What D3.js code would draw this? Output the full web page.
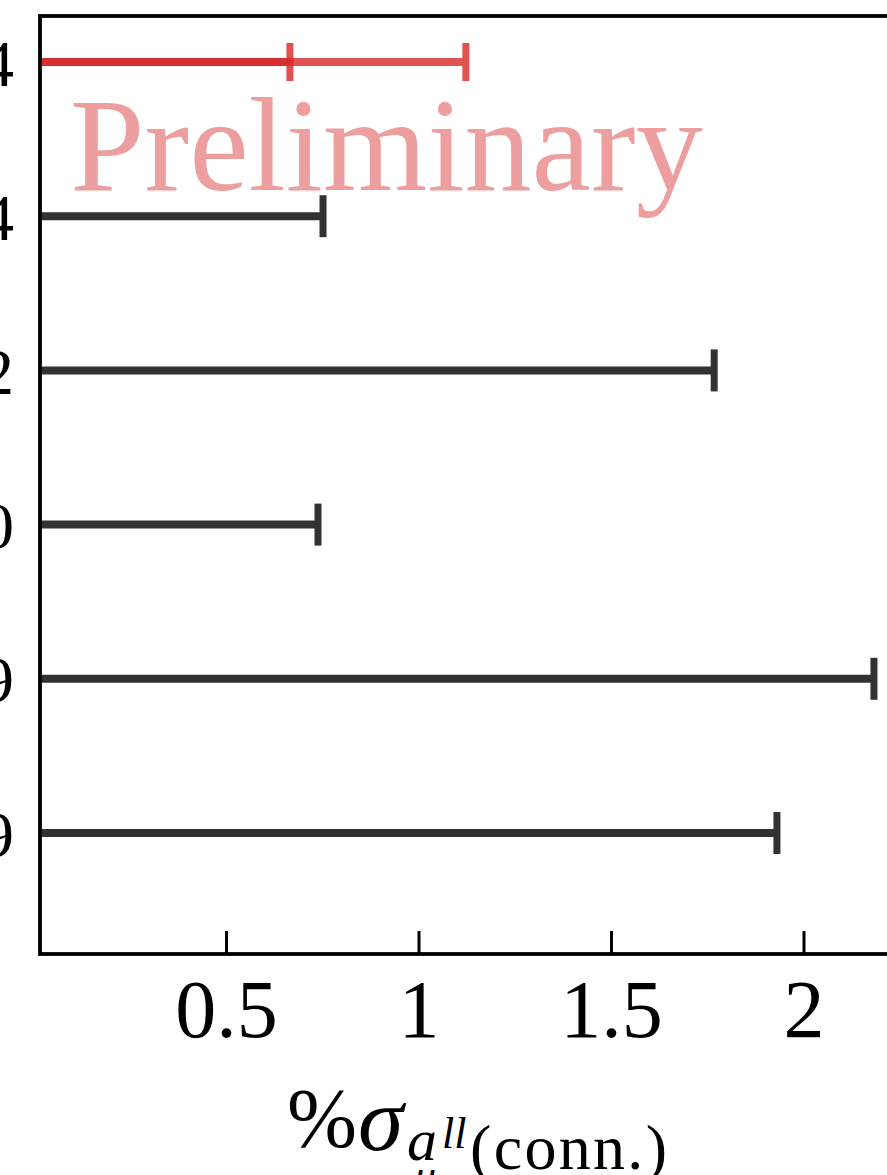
<!DOCTYPE html>
<html>
<head>
<meta charset="utf-8">
<script src="https://cdn.jsdelivr.net/npm/d3@7"></script>
<style>
  html, body { margin: 0; padding: 0; background: #fff; overflow: hidden; }
  svg { display: block; }
  text { font-family: "Liberation Serif", "Times New Roman", serif; }
</style>
</head>
<body>
<svg id="chart" width="887" height="1175"></svg>
<script>
// Row labels (top to bottom) and the relative uncertainty of each entry
const rows = ["4", "4", "2", "0", "9", "9"];
const errTotal = [1.123, 0.752, 1.768, 0.739, 2.183, 1.931];
// Inner (partial) uncertainty shown only for the highlighted first entry
const errInner = [0.666, null, null, null, null, null];
const highlight = [true, false, false, false, false, false];
const xTicks = [0.5, 1, 1.5, 2];
const xTickLabels = ["0.5", "1", "1.5", "2"];

const svg = d3.select("#chart");
const frame = { left: 40, top: 16, right: 905, bottom: 954 };

const x = d3.scaleLinear().domain([0, 2]).range([33.5, 803.5]);
const y = d3.scalePoint().domain(d3.range(rows.length)).range([62, 833]);

const red = "#d62728";
const dark = "#000";

svg.append("defs").append("clipPath").attr("id", "plot-clip")
  .append("rect")
  .attr("x", frame.left).attr("y", frame.top)
  .attr("width", frame.right - frame.left).attr("height", frame.bottom - frame.top);

const plot = svg.append("g").attr("clip-path", "url(#plot-clip)");

// Watermark
plot.append("text")
  .attr("x", 70).attr("y", 190)
  .attr("font-size", 134)
  .attr("fill", red).attr("fill-opacity", 0.45)
  .text("Preliminary");

// Horizontal error bars drawn from zero to the uncertainty, with an end cap
function errorBar(g, i, v, color, capHalf) {
  g.append("line")
    .attr("x1", x(0)).attr("x2", x(v))
    .attr("y1", y(i)).attr("y2", y(i))
    .attr("stroke", color).attr("stroke-width", 8);
  g.append("line")
    .attr("x1", x(v)).attr("x2", x(v))
    .attr("y1", y(i) - capHalf).attr("y2", y(i) + capHalf)
    .attr("stroke", color).attr("stroke-width", 7);
}

rows.forEach((_, i) => {
  const color = highlight[i] ? red : dark;
  const capHalf = highlight[i] ? 19 : 21;
  const g = plot.append("g").attr("opacity", 0.8);
  errorBar(g, i, errTotal[i], color, capHalf);
  if (errInner[i] != null) {
    const g2 = plot.append("g").attr("opacity", 0.8);
    errorBar(g2, i, errInner[i], color, capHalf);
  }
});

// Frame
svg.append("rect")
  .attr("x", frame.left).attr("y", frame.top)
  .attr("width", frame.right - frame.left).attr("height", frame.bottom - frame.top)
  .attr("fill", "none").attr("stroke", "#000").attr("stroke-width", 3.8);

// Bottom axis: inward ticks, labels below
const xAxis = d3.axisBottom(x)
  .tickValues(xTicks)
  .tickFormat((d, i) => xTickLabels[i])
  .tickSizeInner(-23).tickSizeOuter(0).tickPadding(60);

const gx = svg.append("g").attr("transform", `translate(0,${frame.bottom})`).call(xAxis);
gx.select(".domain").remove();
gx.selectAll(".tick line").attr("stroke", "#000").attr("stroke-width", 3);
gx.selectAll(".tick text")
  .attr("font-size", 82)
  .attr("font-family", "Liberation Serif, serif")
  .attr("fill", "#000")
  .attr("y", 83).attr("dy", 0);

// Row labels at the left
const yAxis = d3.axisLeft(y)
  .tickFormat(i => rows[i])
  .tickSize(0).tickPadding(0);
const gy = svg.append("g").attr("transform", "translate(14,0)").call(yAxis);
gy.select(".domain").remove();
gy.selectAll(".tick text")
  .attr("font-size", 66)
  .attr("font-family", "Liberation Serif, serif")
  .attr("fill", "#000")
  .attr("x", 0).attr("dy", 23);

// Axis title: %σ with subscript a_μ^{ll}(conn.), set as one text run
const title = svg.append("text").attr("fill", "#000");
title.append("tspan").attr("x", 287).attr("y", 1147).attr("font-size", 84).text("%");
title.append("tspan").attr("x", 358).attr("y", 1150).attr("font-size", 92)
  .attr("font-style", "italic").text("σ");
title.append("tspan").attr("x", 407).attr("y", 1160).attr("font-size", 60)
  .attr("font-style", "italic").text("a");
title.append("tspan").attr("x", 414).attr("y", 1190).attr("font-size", 44)
  .attr("font-style", "italic").text("μ");
title.append("tspan").attr("x", 442).attr("y", 1148).attr("font-size", 44)
  .attr("font-style", "italic").text("ll");
title.append("tspan").attr("x", 470).attr("y", 1169).attr("font-size", 64)
  .attr("textLength", 197).attr("lengthAdjust", "spacing").text("(conn.)");
</script>
</body>
</html>
